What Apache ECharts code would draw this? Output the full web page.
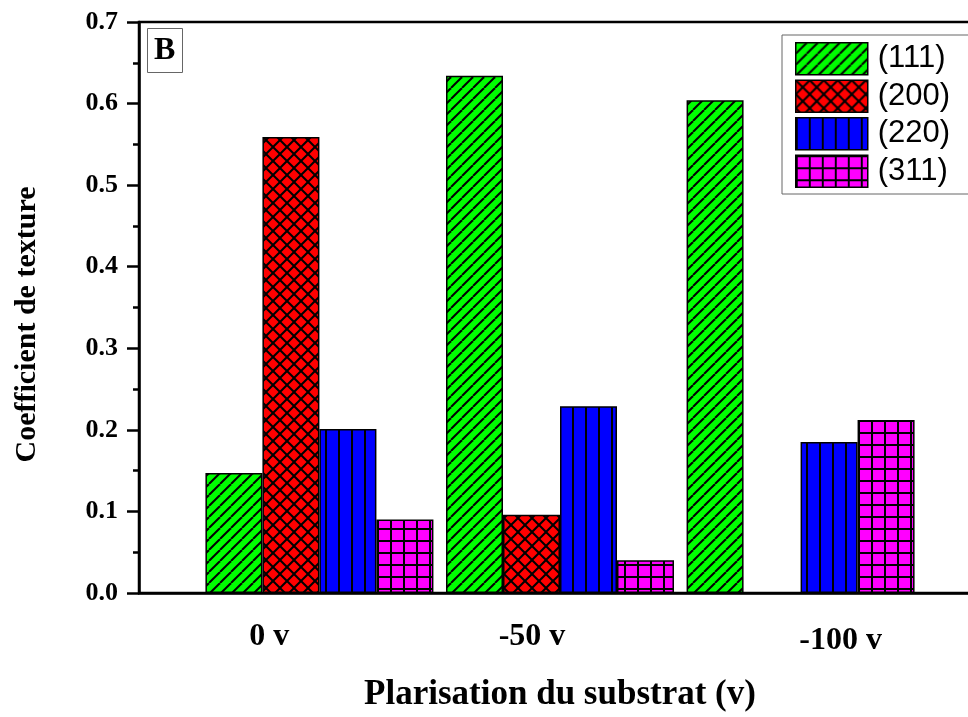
<!DOCTYPE html>
<html>
<head>
<meta charset="utf-8">
<script src="https://cdn.jsdelivr.net/npm/echarts@6/dist/echarts.min.js"></script>
<style>
html,body{margin:0;padding:0;background:#fff;}
#c{width:968px;height:717px;}
</style>
</head>
<body>
<div id="c"></div>
<script>
// ---- data ----
const categories = ['0 v', '-50 v', '-100 v'];
const seriesNames = ['(111)', '(200)', '(220)', '(311)'];
const s111 = [0.147, 0.634, 0.604];
const s200 = [0.559, 0.096, null];
const s220 = [0.201, 0.229, 0.185];
const s311 = [0.090, 0.040, 0.212];
const yTicks = [0.0, 0.1, 0.2, 0.3, 0.4, 0.5, 0.6, 0.7];

// ---- patterns ----
function makePattern(bg, w, h, draw) {
  const c = document.createElement('canvas');
  c.width = w; c.height = h;
  const ctx = c.getContext('2d');
  ctx.fillStyle = bg; ctx.fillRect(0, 0, w, h);
  ctx.fillStyle = '#000'; ctx.strokeStyle = '#000'; ctx.lineWidth = 2;
  draw(ctx, w, h);
  return { image: c, repeat: 'repeat' };
}
function diagUp(ctx, w, h) {
  for (let k = -1; k <= 1; k++) {
    ctx.beginPath(); ctx.moveTo(k * w, h); ctx.lineTo(k * w + w, 0); ctx.stroke();
  }
}
function diagDown(ctx, w, h) {
  for (let k = -1; k <= 1; k++) {
    ctx.beginPath(); ctx.moveTo(k * w, 0); ctx.lineTo(k * w + w, h); ctx.stroke();
  }
}
const pat111 = makePattern('#00ff00', 11, 11, diagUp);
const pat200 = makePattern('#ff0000', 14, 14, (ctx, w, h) => { diagUp(ctx, w, h); diagDown(ctx, w, h); });
const pat220 = makePattern('#0000ff', 13, 4, (ctx, w, h) => { ctx.fillRect(0, 0, 2, h); });
const pat311 = makePattern('#ff00ff', 13, 12, (ctx, w, h) => { ctx.fillRect(0, 0, 2, h); ctx.fillRect(0, 0, w, 2); });
const patterns = [pat111, pat200, pat220, pat311];
const allValues = [s111, s200, s220, s311];

const serif = '"Liberation Serif","Times New Roman",serif';
const sans = '"Liberation Sans",Arial,sans-serif';

const series = seriesNames.map((name, i) => ({
  name: name,
  type: 'bar',
  xAxisIndex: 0,
  barWidth: 57,
  barGap: '0%',
  itemStyle: { color: patterns[i], borderColor: '#000', borderWidth: 1.5 },
  data: allValues[i].map((v, j) => [j + 1, v == null ? '-' : v])
}));

const labelFont = { fontFamily: serif, fontWeight: 'bold', fontSize: 32, color: '#000' };

const chart = echarts.init(document.getElementById('c'), null, { renderer: 'canvas' });
chart.setOption({
  animation: false,
  backgroundColor: '#ffffff',
  title: {
    text: 'B',
    left: 147, top: 28,
    padding: [7, 7, 6, 7],
    borderColor: '#666', borderWidth: 1,
    textStyle: { fontFamily: serif, fontWeight: 'bold', fontSize: 32, lineHeight: 32, color: '#000' }
  },
  legend: {
    data: seriesNames,
    left: 782, top: 35,
    orient: 'vertical',
    icon: 'rect',
    itemWidth: 72, itemHeight: 32, itemGap: 4,
    padding: [7, 40, 6, 13],
    borderColor: '#666', borderWidth: 1,
    backgroundColor: '#fff',
    textStyle: { fontFamily: sans, fontSize: 31, lineHeight: 32, color: '#000', padding: [0, 0, 0, 5] },
    itemStyle: { borderColor: '#000', borderWidth: 1.5 }
  },
  grid: {
    left: 139, width: 842, top: 22, bottom: 124,
    outerBoundsMode: 'none',
    show: true, borderColor: '#000', borderWidth: 2.5, backgroundColor: 'transparent',
    containLabel: false
  },
  xAxis: [{
    type: 'value',
    min: 0.25, max: 3.75,
    name: 'Plarisation du substrat (v)',
    nameLocation: 'middle',
    nameGap: 84,
    nameTextStyle: { fontFamily: serif, fontWeight: 'bold', fontSize: 35, color: '#000' },
    axisLine: { show: true, lineStyle: { color: '#000', width: 2.5 } },
    axisTick: { show: false },
    splitLine: { show: false },
    axisLabel: { show: false }
  }, {
    type: 'category',
    position: 'bottom',
    data: categories,
    boundaryGap: true,
    axisLine: { show: false },
    axisTick: { show: false },
    splitLine: { show: false },
    axisLabel: {
      margin: 28,
      formatter: (val, idx) => '{s' + idx + '|' + val + '}',
      rich: {
        s0: Object.assign({ padding: [0, 20, 0, 0] }, labelFont),
        s1: Object.assign({ padding: [0, 56, 0, 0] }, labelFont),
        s2: Object.assign({ padding: [4, 0, 0, 0] }, labelFont)
      },
      ...labelFont
    }
  }],
  yAxis: {
    type: 'value',
    min: 0, max: 0.7, interval: 0.1,
    name: 'Coefficient de texture',
    nameLocation: 'middle',
    nameGap: 97,
    nameTextStyle: { fontFamily: serif, fontWeight: 'bold', fontSize: 30, color: '#000', padding: [0, 34, 0, 0] },
    axisLine: { show: true, lineStyle: { color: '#000', width: 2.5 } },
    axisTick: { show: true, inside: false, length: 12, lineStyle: { color: '#000', width: 2.5 } },
    minorTick: { show: true, splitNumber: 2, length: 6, lineStyle: { color: '#000', width: 2.5 } },
    splitLine: { show: false },
    axisLabel: {
      margin: 21,
      formatter: v => yTicks.includes(Math.round(v * 10) / 10) ? v.toFixed(1) : '',
      fontFamily: serif, fontWeight: 'bold', fontSize: 26, color: '#000'
    }
  },
  series: series
});
</script>
</body>
</html>
